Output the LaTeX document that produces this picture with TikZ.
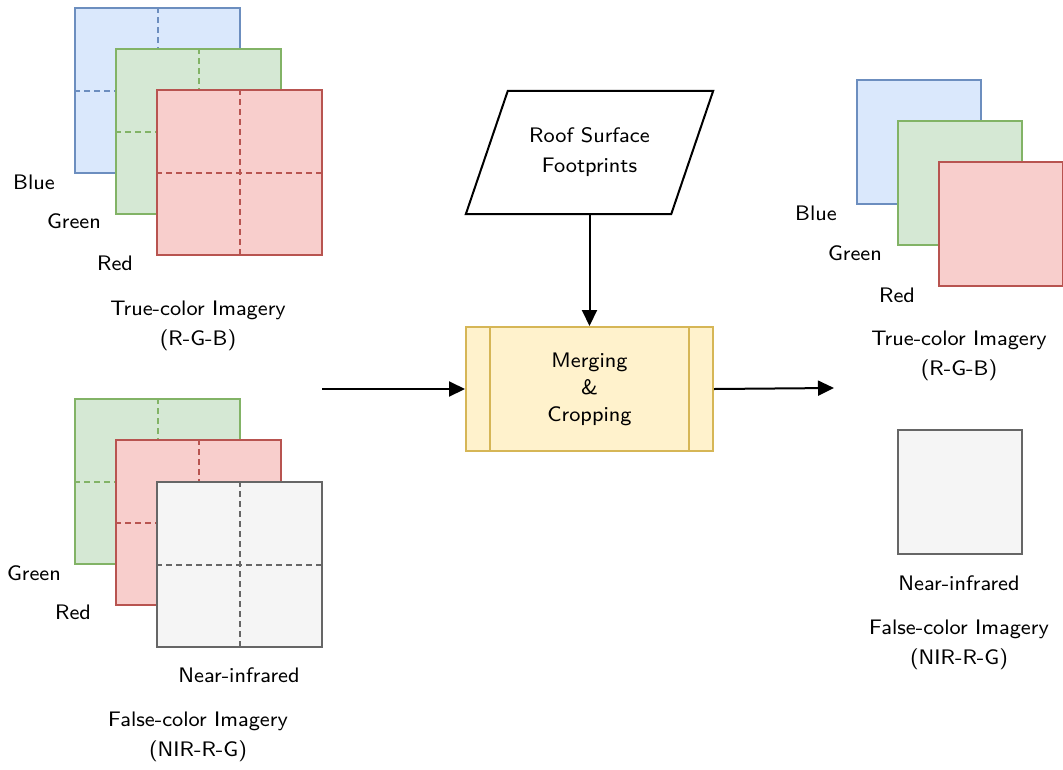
\documentclass[tikz,border=0pt]{standalone}
\usepackage{fontspec}
\newfontfamily\labelfont{lmsans8-regular.otf}
\usetikzlibrary{arrows.meta,calc}
\definecolor{blueFill}{HTML}{DAE8FC}\definecolor{blueLine}{HTML}{6C8EBF}
\definecolor{greenFill}{HTML}{D5E8D4}\definecolor{greenLine}{HTML}{82B366}
\definecolor{redFill}{HTML}{F8CECC}\definecolor{redLine}{HTML}{B85450}
\definecolor{grayFill}{HTML}{F5F5F5}\definecolor{grayLine}{HTML}{666666}
\definecolor{yelFill}{HTML}{FFF2CC}\definecolor{yelLine}{HTML}{D6B656}
\tikzset{
  band/.style={rectangle,inner sep=0pt,line width=2pt,minimum width=#1,minimum height=#1},
  band/.default=165pt,
  bblue/.style={band,draw=blueLine,fill=blueFill},
  bgreen/.style={band,draw=greenLine,fill=greenFill},
  bred/.style={band,draw=redLine,fill=redFill},
  bgray/.style={band,draw=grayLine,fill=grayFill},
  grid/.style={line width=2pt,dash pattern=on 6pt off 4pt},
  lbl/.style={font=\labelfont\fontsize{21}{30}\selectfont,align=center,inner sep=0pt},
  flow/.style={line width=2pt,-{Triangle[length=16pt,width=15pt]}},
}
\newcommand{\quarter}[2]{%
  \draw[grid,#2] (#1.north) -- (#1.south);
  \draw[grid,#2] (#1.west) -- (#1.east);}
\begin{document}
\begin{tikzpicture}[x=1pt,y=-1pt]
\useasboundingbox (0,0) rectangle (1063,769);

% true-colour stack, left
\node[bblue] (tb) at (157.5,90.5) {};
\quarter{tb}{blueLine}
\node[bgreen] (tg) at (198.5,131.5) {};
\quarter{tg}{greenLine}
\node[bred] (tr) at (239.5,172.5) {};
\quarter{tr}{redLine}
\node[lbl] (tbl) at (34,182) {Blue};
\node[lbl] (tgl) at (74,221) {Green};
\node[lbl] (trl) at (115,263) {Red};
\node[lbl] (tcap) at (198,326) {True-color Imagery\\(R-G-B)};

% false-colour stack, left
\node[bgreen] (fg) at (157.5,481.5) {};
\quarter{fg}{greenLine}
\node[bred] (fr) at (198.5,522.5) {};
\quarter{fr}{redLine}
\node[bgray] (fn) at (239.5,564.5) {};
\quarter{fn}{grayLine}
\node[lbl] (fgl) at (34,573) {Green};
\node[lbl] (frl) at (73,612) {Red};
\node[lbl] (fnl) at (239,675) {Near-infrared};
\node[lbl] (fcap) at (198,737) {False-color Imagery\\(NIR-R-G)};

% footprint input (parallelogram)
\node[inner sep=0pt,minimum width=247pt,minimum height=123pt] (fp) at (589.5,152.5) {};
\draw[line width=2pt,fill=white] ($(fp.north west)+(42,0)$) -- (fp.north east)
  -- ($(fp.south east)-(42,0)$) -- (fp.south west) -- cycle;
\node[lbl] (fptext) at (fp) {Roof Surface\\Footprints};

% merging process
\node[lbl,font=\labelfont\fontsize{21}{27}\selectfont,draw=yelLine,fill=yelFill,line width=2pt,
      minimum width=247pt,minimum height=124pt] (proc) at (589.5,389) {Merging\\\&\\Cropping};
\draw[yelLine,line width=2pt] ($(proc.north west)+(25,0)$) -- ($(proc.south west)+(25,0)$);
\draw[yelLine,line width=2pt] ($(proc.north east)-(25,0)$) -- ($(proc.south east)-(25,0)$);

% results, right
\node[band=124pt,draw=blueLine,fill=blueFill] (rb) at (919,142) {};
\node[band=124pt,draw=greenLine,fill=greenFill] (rg) at (960,183) {};
\node[band=124pt,draw=redLine,fill=redFill] (rr) at (1001,224) {};
\node[lbl] (rbl) at (816,213) {Blue};
\node[lbl] (rgl) at (855,253) {Green};
\node[lbl] (rrl) at (897,295) {Red};
\node[lbl] (rcap) at (959,356) {True-color Imagery\\(R-G-B)};
\node[band=124pt,draw=grayLine,fill=grayFill] (rn) at (960,492) {};
\node[lbl] (rnl) at (959,583) {Near-infrared};
\node[lbl] (rfcap) at (959,645) {False-color Imagery\\(NIR-R-G)};

% connectors
\coordinate (inL) at (322,389);
\coordinate (outR) at (834,388);
\draw[flow] (fp.south) -- (proc.north);
\draw[flow] (inL) -- (proc.west);
\draw[flow] (proc.east) -- (outR);
\end{tikzpicture}
\end{document}
